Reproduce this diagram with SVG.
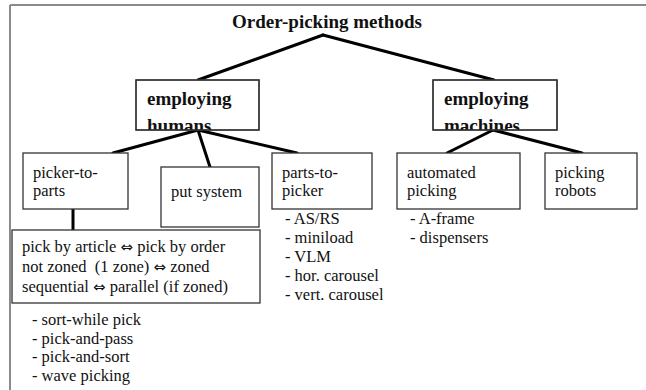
<svg xmlns="http://www.w3.org/2000/svg" width="646" height="390" viewBox="0 0 646 390">
<style>
.frame{stroke:#8a8a8a;stroke-width:2;fill:none}
.box{fill:#fff;stroke:#333;stroke-width:1.3}
.con{stroke:#000;stroke-width:3;fill:none;stroke-linecap:round}
.t{font-family:"Liberation Serif","Times New Roman",serif;font-size:16.5px;fill:#111;white-space:pre}
.b{font-family:"Liberation Serif","Times New Roman",serif;font-size:19px;font-weight:bold;fill:#111}
.arr{font-family:"DejaVu Sans",sans-serif;font-size:15px}
</style>
<defs>
<clipPath id="clipH"><rect x="136" y="80" width="123" height="50"/></clipPath>
<clipPath id="clipM"><rect x="433" y="80" width="124" height="50"/></clipPath>
</defs>
<rect width="646" height="390" fill="#fff"/>
<g id="frame">
<line class="frame" x1="10" y1="5" x2="646" y2="5"/>
<line class="frame" x1="10" y1="5" x2="10" y2="390"/>
</g>
<g id="connectors">
<line class="con" x1="323" y1="35" x2="198" y2="80"/>
<line class="con" x1="323" y1="35" x2="494" y2="80"/>
<line class="con" x1="198" y1="130" x2="113" y2="153"/>
<line class="con" x1="198" y1="130" x2="210" y2="167"/>
<line class="con" x1="198" y1="130" x2="297" y2="153"/>
<line class="con" x1="493" y1="130" x2="447" y2="153"/>
<line class="con" x1="493" y1="130" x2="582" y2="153"/>
<line class="con" x1="73" y1="209" x2="73" y2="230"/>
</g>
<g id="title">
<text class="b" x="327" y="28" text-anchor="middle">Order-picking methods</text>
</g>
<g id="humans">
<rect class="box" x="136" y="80" width="123" height="50"/>
<g clip-path="url(#clipH)">
<text class="b" x="147" y="105">employing</text>
<text class="b" x="147" y="131.5">humans</text>
</g>
<rect x="136" y="80" width="123" height="50" fill="none" stroke="#333" stroke-width="1.3"/>
</g>
<g id="machines">
<rect class="box" x="433" y="80" width="124" height="50"/>
<g clip-path="url(#clipM)">
<text class="b" x="444" y="105">employing</text>
<text class="b" x="444" y="131.5">machines</text>
</g>
<rect x="433" y="80" width="124" height="50" fill="none" stroke="#333" stroke-width="1.3"/>
</g>
<g id="picker-to-parts">
<rect class="box" x="23" y="153" width="105" height="56"/>
<text class="t" x="33" y="178">picker-to-</text>
<text class="t" x="33" y="196">parts</text>
</g>
<g id="put-system">
<rect class="box" x="161" y="167" width="98" height="60"/>
<text class="t" x="171" y="197">put system</text>
</g>
<g id="parts-to-picker">
<rect class="box" x="272" y="153" width="100" height="56"/>
<text class="t" x="282" y="178">parts-to-</text>
<text class="t" x="282" y="196">picker</text>
<text class="t" x="285" y="224">- AS/RS</text>
<text class="t" x="285" y="243">- miniload</text>
<text class="t" x="285" y="262">- VLM</text>
<text class="t" x="285" y="281">- hor. carousel</text>
<text class="t" x="285" y="300">- vert. carousel</text>
</g>
<g id="automated-picking">
<rect class="box" x="397" y="153" width="123" height="56"/>
<text class="t" x="407" y="178">automated</text>
<text class="t" x="407" y="196">picking</text>
<text class="t" x="410" y="224">- A-frame</text>
<text class="t" x="410" y="243">- dispensers</text>
</g>
<g id="picking-robots">
<rect class="box" x="545" y="153" width="92" height="56"/>
<text class="t" x="555" y="178">picking</text>
<text class="t" x="555" y="196">robots</text>
</g>
<g id="picker-variants">
<rect class="box" x="12" y="230" width="248" height="73"/>
<text class="t" x="22" y="252">pick by article <tspan class="arr">⇔</tspan> pick by order</text>
<text class="t" x="22" y="272">not zoned  (1 zone) <tspan class="arr">⇔</tspan> zoned</text>
<text class="t" x="22" y="292">sequential <tspan class="arr">⇔</tspan> parallel (if zoned)</text>
<text class="t" x="32" y="325">- sort-while pick</text>
<text class="t" x="32" y="343.5">- pick-and-pass</text>
<text class="t" x="32" y="362">- pick-and-sort</text>
<text class="t" x="32" y="380.5">- wave picking</text>
</g>
</svg>
